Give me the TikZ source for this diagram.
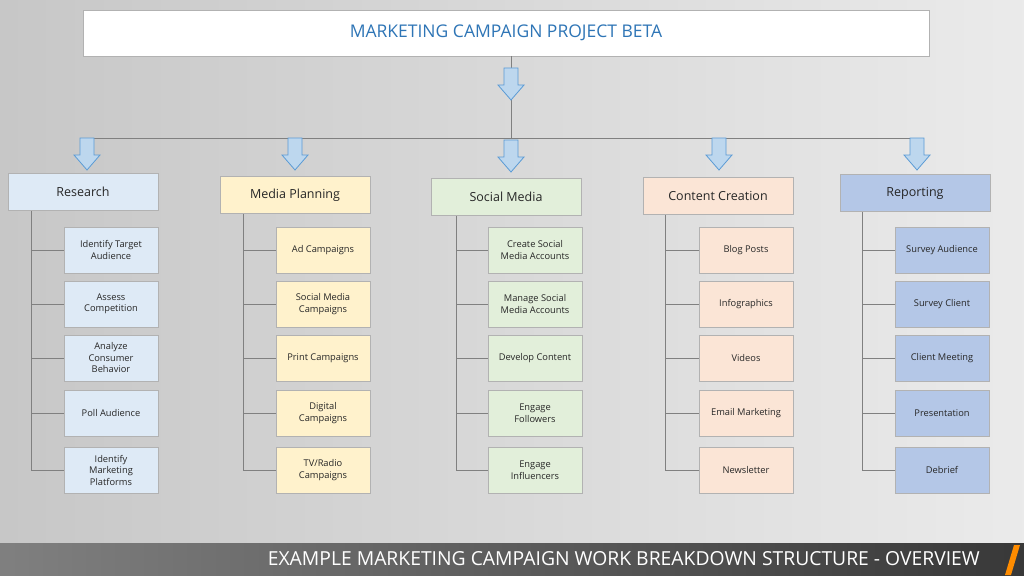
\documentclass[tikz,border=0pt]{standalone}
\usepackage{fontspec}
\setmainfont{Open Sans}
\definecolor{ab}{HTML}{5B9BD5}\definecolor{af}{HTML}{BDD7EE}\definecolor{tt}{HTML}{2E75B6}
\begin{document}
\begin{tikzpicture}[x=1pt,y=-1pt,
  cat/.style={draw=black!30,line width=0.8pt,minimum width=150pt,minimum height=37pt,font=\fontsize{12.5}{14}\selectfont,text=black!85},
  kid/.style={draw=black!30,line width=0.8pt,minimum width=94pt,minimum height=46pt,align=center,font=\fontsize{9.3}{11.5}\selectfont,text=black!85},
  ln/.style={draw=black!50,line width=0.9pt},
  arr/.style={draw=ab,fill=af,line width=0.8pt,line join=miter}]
\useasboundingbox (0,0) rectangle (1024,575);
\shade[left color=black!22,right color=black!8] (0,0) rectangle (1024,575);
\shade[left color=black!50,right color=black!78] (0,543) rectangle (1024,575);
\fill[orange!90!yellow] (1005,575) -- (1014,545) -- (1020,545) -- (1011,575) -- cycle;
\node[text=white,anchor=east,inner sep=0pt] (foot) at (980,559) {\resizebox{712pt}{!}{\fontsize{19}{22}\selectfont EXAMPLE MARKETING CAMPAIGN WORK BREAKDOWN STRUCTURE - OVERVIEW}};
\node[draw=black!30,fill=white,minimum width=846pt,minimum height=46pt,font=\fontsize{17.5}{20}\selectfont,text=tt] (top) at (506,33) {MARKETING CAMPAIGN PROJECT BETA};
\coordinate (hub) at (511,138);
\coordinate (hl) at (87,138);
\coordinate (hr) at (917,138);
\draw[ln] (511,56) -- (hub);
\draw[ln] (hl) -- (hr);
\foreach \x/\y in {511/68,87/138,295/138,511/140,719/138,917/138}{
  \draw[arr] (\x-7,\y) -- (\x+7,\y) -- (\x+7,\y+17) -- (\x+13,\y+17) -- (\x,\y+32) -- (\x-13,\y+17) -- (\x-7,\y+17) -- cycle;
}
\definecolor{f1}{HTML}{DEEAF6}\definecolor{f2}{HTML}{FFF2CC}\definecolor{f3}{HTML}{E2EFDA}\definecolor{f4}{HTML}{FBE5D6}\definecolor{f5}{HTML}{B4C7E7}
\node[cat,fill=f1] (c1) at (83,192) {Research};
\node[cat,fill=f2] (c2) at (295,195) {Media Planning};
\node[cat,fill=f3] (c3) at (506,197) {Social Media};
\node[cat,fill=f4] (c4) at (718,196) {Content Creation};
\node[cat,fill=f5] (c5) at (915,193) {Reporting};
\foreach \i/\lx/\kx/\A/\B/\C/\D/\E in {
 1/31/111/{Identify Target\\Audience}/{Assess\\Competition}/{Analyze\\Consumer\\Behavior}/{Poll Audience}/{Identify\\Marketing\\Platforms},
 2/243/323/{Ad Campaigns}/{Social Media\\Campaigns}/{Print Campaigns}/{Digital\\Campaigns}/{TV/Radio\\Campaigns},
 3/456/535/{Create Social\\Media Accounts}/{Manage Social\\Media Accounts}/{Develop Content}/{Engage\\Followers}/{Engage\\Influencers},
 4/665/746/{Blog Posts}/{Infographics}/{Videos}/{Email Marketing}/{Newsletter},
 5/862/942/{Survey Audience}/{Survey Client}/{Client Meeting}/{Presentation}/{Debrief}}{
 \node[kid,fill=f\i] (k\i a) at (\kx,250) {\A};
 \node[kid,fill=f\i] (k\i b) at (\kx,304) {\B};
 \node[kid,fill=f\i] (k\i c) at (\kx,358) {\C};
 \node[kid,fill=f\i] (k\i d) at (\kx,413) {\D};
 \node[kid,fill=f\i] (k\i e) at (\kx,470) {\E};
 \draw[ln] (c\i.south -| \lx,0) -- (\lx,470) -- (k\i e.west);
 \foreach \r in {a,b,c,d} {\draw[ln] (k\i\r.west -| \lx,0) -- (k\i\r.west);}
}
\end{tikzpicture}
\end{document}
